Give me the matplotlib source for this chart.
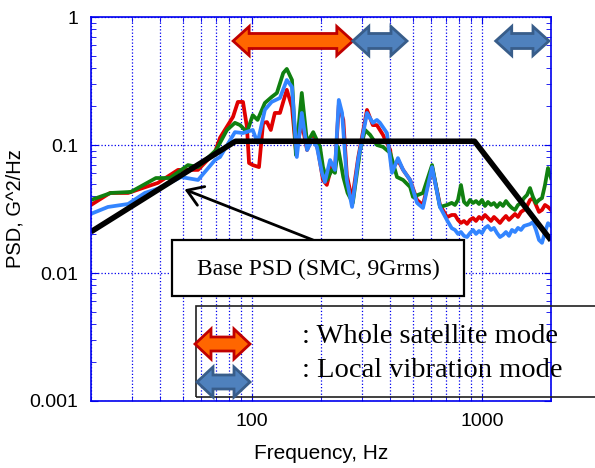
import matplotlib
matplotlib.use("Agg")
import matplotlib.pyplot as plt
from matplotlib.patches import Polygon, Rectangle
from matplotlib.transforms import IdentityTransform
from matplotlib.ticker import LogLocator, NullFormatter, FixedLocator, FixedFormatter

plt.rcParams['font.family'] = ['Liberation Sans', 'DejaVu Sans']

# base (SMC) spec
base_f = [20, 85, 930, 2000]
base_psd = [0.021, 0.107, 0.107, 0.018]

# measured responses, low/mid band
red_f = [20, 24.2, 29, 39.1, 47.8, 58.4, 69.2, 72.8, 82.9, 87, 91.6, 95.3, 97.3, 101, 107.5,
         112, 116.5, 121, 126, 132.6, 142, 149.6, 155.6, 165, 174, 185, 194, 204, 212, 223,
         230, 239, 250, 259, 273, 290, 317, 336, 350, 372, 400, 407, 432, 455, 488, 523,
         555, 608, 658, 706, 740]
red_psd = [0.034, 0.0422, 0.0422, 0.0506, 0.0639, 0.0639, 0.088, 0.114, 0.166, 0.217, 0.217,
           0.138, 0.0723, 0.0697, 0.0672, 0.149, 0.151, 0.131, 0.178, 0.178, 0.27, 0.198,
           0.09, 0.149, 0.0914, 0.12, 0.0914, 0.0533, 0.0488, 0.0697, 0.0639, 0.205, 0.157,
           0.0583, 0.0372, 0.079, 0.188, 0.143, 0.143, 0.12, 0.0914, 0.0639, 0.0763, 0.0639,
           0.0533, 0.0372, 0.034, 0.0672, 0.034, 0.0273, 0.0284]

green_f = [20, 24.4, 29.8, 38.3, 44.1, 52.8, 58.4, 70, 78, 84.5, 89, 95.3, 101, 106, 114,
           122, 128.6, 137, 142, 149.6, 155.6, 165, 174, 185, 198, 204, 212, 223, 230, 237,
           250, 261, 275, 296, 311, 327, 350, 372, 400, 428, 455, 488, 502, 555, 608, 658,
           706, 740]
green_psd = [0.0372, 0.0422, 0.043, 0.0552, 0.0552, 0.0697, 0.0672, 0.0914, 0.131, 0.149,
             0.143, 0.126, 0.171, 0.157, 0.213, 0.237, 0.255, 0.365, 0.393, 0.322, 0.0835,
             0.255, 0.104, 0.126, 0.0967, 0.0672, 0.0533, 0.0639, 0.0606, 0.0967, 0.0562,
             0.0422, 0.0353, 0.0914, 0.131, 0.12, 0.1, 0.0967, 0.0867, 0.0562, 0.0533, 0.047,
             0.0393, 0.0422, 0.0697, 0.0328, 0.034, 0.0353]

blue_f = [20, 23.7, 29, 34.3, 40, 49.2, 58.4, 69.2, 72.8, 84.5, 91.6, 101, 106, 114, 122,
          132.6, 142, 149.6, 157, 165, 174, 183, 192, 202, 208, 219, 230, 239, 247, 259, 273,
          290, 317, 336, 350, 361, 387, 407, 432, 455, 488, 523, 555, 608, 658, 706, 740]
blue_psd = [0.029, 0.0328, 0.0346, 0.0422, 0.0463, 0.0562, 0.0533, 0.0763, 0.0806, 0.126,
            0.124, 0.131, 0.104, 0.188, 0.217, 0.233, 0.322, 0.284, 0.0806, 0.178, 0.0914,
            0.11, 0.0967, 0.0606, 0.0514, 0.0763, 0.0639, 0.225, 0.178, 0.0533, 0.0328,
            0.0763, 0.178, 0.149, 0.157, 0.149, 0.124, 0.0606, 0.079, 0.0639, 0.0533, 0.0353,
            0.0322, 0.0672, 0.0328, 0.0259, 0.0224]

# high band (noisy part), shared frequency points
hf_f = [765, 788, 812, 837, 863, 889, 916, 944, 973, 1002, 1033, 1064, 1097, 1130, 1165,
        1200, 1237, 1274, 1313, 1353, 1395, 1437, 1481, 1526, 1573, 1621, 1670, 1721, 1774,
        1828, 1883, 1941, 2000]
red_hf = [0.0284, 0.026, 0.0246, 0.0255, 0.0242, 0.026, 0.0269, 0.0255, 0.0274, 0.0264,
          0.0284, 0.0269, 0.0255, 0.0274, 0.026, 0.0246, 0.0264, 0.0279, 0.026, 0.0274,
          0.0289, 0.0274, 0.03, 0.0311, 0.0334, 0.0372, 0.0385, 0.034, 0.03, 0.0311, 0.034,
          0.0328, 0.0311]
green_hf = [0.034, 0.0372, 0.0487, 0.0359, 0.034, 0.0372, 0.0352, 0.0365, 0.0346, 0.0372,
            0.0334, 0.0359, 0.034, 0.0352, 0.0328, 0.0352, 0.0334, 0.0365, 0.034, 0.0322,
            0.0311, 0.034, 0.0352, 0.0385, 0.0407, 0.0461, 0.0392, 0.0352, 0.0372, 0.0385,
            0.0487, 0.0661, 0.0552]
blue_hf = [0.0217, 0.0202, 0.0209, 0.0195, 0.0191, 0.0205, 0.0217, 0.0202, 0.0213, 0.0205,
           0.0225, 0.0233, 0.0217, 0.0225, 0.0205, 0.0191, 0.0198, 0.0209, 0.0195, 0.0217,
           0.0209, 0.0225, 0.0217, 0.0233, 0.0237, 0.0241, 0.025, 0.0217, 0.0181, 0.0172,
           0.0209, 0.0245, 0.0233]

# mode bands (Hz)
whole_modes = [(83, 275)]
local_modes = [(275, 473), (1150, 1960)]

ORANGE, ORANGE_EDGE = '#FF6600', '#C00000'
STEEL, STEEL_EDGE = '#4F81BD', '#385D8A'
AXBLUE = '#0000EE'

W, H = 595, 468
fig = plt.figure(figsize=(W / 100, H / 100), dpi=100)
ax = fig.add_axes([91 / W, 67 / H, 460 / W, 384 / H])
ax.set_xscale('log')
ax.set_yscale('log')
ax.set_xlim(20, 2000)
ax.set_ylim(0.001, 1)

ax.plot(red_f + hf_f, red_psd + red_hf, color='#E00000', lw=2.7)
ax.plot(green_f + hf_f, green_psd + green_hf, color='#108010', lw=2.7)
ax.plot(blue_f + hf_f, blue_psd + blue_hf, color='#3385FF', lw=2.7)
ax.plot(base_f, base_psd, color='black', lw=4, solid_capstyle='butt')

# ticks and grid
ax.xaxis.set_major_locator(FixedLocator([100, 1000]))
ax.xaxis.set_major_formatter(FixedFormatter(['100', '1000']))
ax.xaxis.set_minor_locator(LogLocator(base=10, subs=range(2, 10)))
ax.xaxis.set_minor_formatter(NullFormatter())
ax.yaxis.set_major_locator(FixedLocator([0.001, 0.01, 0.1, 1]))
ax.yaxis.set_major_formatter(FixedFormatter(['0.001', '0.01', '0.1', '1']))
ax.yaxis.set_minor_locator(LogLocator(base=10, subs=range(2, 10)))
ax.yaxis.set_minor_formatter(NullFormatter())
ax.tick_params(which='both', direction='in', color=AXBLUE, top=True, right=True,
               labelsize=14, pad=9)
ax.tick_params(which='major', length=5)
ax.tick_params(which='minor', length=3.5)
ax.grid(True, which='both', axis='x', color=AXBLUE, ls=':', lw=0.9)
ax.grid(True, which='major', axis='y', color=AXBLUE, ls=':', lw=0.9)
for s in ax.spines.values():
    s.set_color(AXBLUE)
    s.set_linewidth(1.2)

ax.set_xlabel('Frequency, Hz', fontsize=15, labelpad=10)
ax.set_ylabel('PSD, G^2/Hz', fontsize=14.5, labelpad=4)


def double_arrow(x0, x1, yc, fc, ec, hh=29, sh=15, hl=16):
    pts = [(x0, yc), (x0 + hl, yc + hh / 2), (x0 + hl, yc + sh / 2), (x1 - hl, yc + sh / 2),
           (x1 - hl, yc + hh / 2), (x1, yc), (x1 - hl, yc - hh / 2), (x1 - hl, yc - sh / 2),
           (x0 + hl, yc - sh / 2), (x0 + hl, yc - hh / 2)]
    fig.add_artist(Polygon(pts, closed=True, facecolor=fc, edgecolor=ec, lw=2,
                           transform=IdentityTransform(), zorder=5))


# mode arrows along the top of the plot
top_y = H - 41
for lo, hi in whole_modes:
    x0 = ax.transData.transform((lo, 1))[0]
    x1 = ax.transData.transform((hi, 1))[0]
    double_arrow(x0, x1, top_y, ORANGE, ORANGE_EDGE)
for lo, hi in local_modes:
    x0 = ax.transData.transform((lo, 1))[0]
    x1 = ax.transData.transform((hi, 1))[0]
    double_arrow(x0, x1, top_y, STEEL, STEEL_EDGE)

# base PSD label box with arrow
fig.add_artist(Rectangle((172, H - 296), 292, 56, facecolor='white', edgecolor='black',
                         lw=1.6, transform=IdentityTransform(), zorder=4))
fig.text(318 / W, 1 - 269 / H, 'Base PSD (SMC, 9Grms)', family='Liberation Serif',
         fontsize=17, ha='center', va='center', zorder=6)
ax.annotate('', xy=(51, 0.045), xycoords='data', xytext=(313, H - 240),
            textcoords='figure pixels',
            arrowprops=dict(arrowstyle='->,head_length=0.55,head_width=0.36', lw=2,
                            color='black', shrinkA=0, shrinkB=0, mutation_scale=20),
            zorder=6)

# legend box
fig.add_artist(Rectangle((196, H - 397), 420, 91, facecolor='none', edgecolor='#202020',
                         lw=1.2, transform=IdentityTransform(), zorder=4))
double_arrow(195, 250, H - 344, ORANGE, ORANGE_EDGE, hh=30, sh=14)
double_arrow(197, 250, H - 382, STEEL, STEEL_EDGE, hh=30, sh=14)
fig.text(302 / W, 1 - 343 / H, ': Whole satellite mode', family='Liberation Serif',
         fontsize=20.5, ha='left', va='baseline')
fig.text(302 / W, 1 - 377 / H, ': Local vibration mode', family='Liberation Serif',
         fontsize=20.5, ha='left', va='baseline')

fig.savefig('out.png', dpi=100)
